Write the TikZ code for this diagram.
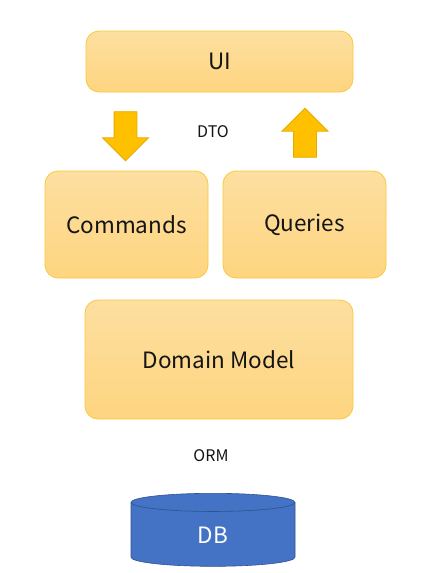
\documentclass[tikz,border=0pt]{standalone}
\usepackage{fontspec}
\setmainfont{Noto Sans CJK SC}
\usetikzlibrary{shapes.geometric,shapes.arrows,positioning}
\definecolor{Ink}{RGB}{20,20,20}
\definecolor{Gold}{RGB}{255,192,0}
\definecolor{GoldEdge}{RGB}{230,170,0}
\definecolor{BoxEdge}{RGB}{250,200,60}
\definecolor{BoxTop}{RGB}{253,223,160}
\definecolor{BoxBottom}{RGB}{254,213,128}
\definecolor{DbBlue}{RGB}{68,114,196}
\definecolor{DbEdge}{RGB}{47,82,143}
\tikzset{
  layer/.style={draw=BoxEdge,line width=.8pt,rounded corners=13pt,top color=BoxTop,bottom color=BoxBottom,text=Ink,font=\fontsize{22.5}{26}\selectfont,inner sep=0pt},
  flowarrow/.style={single arrow,draw=GoldEdge,fill=Gold,line width=.8pt,inner sep=11pt,minimum height=49pt,single arrow head extend=11.5pt},
  store/.style={cylinder,shape border rotate=90,aspect=.6,draw=DbEdge,line width=.6pt,fill=DbBlue,text=white,font=\fontsize{22.5}{26}\selectfont,minimum width=164pt,minimum height=73pt,inner sep=0pt,text height=17pt,text depth=0pt},
  tag/.style={text=Ink,font=\fontsize{16}{19}\selectfont}
}
\begin{document}
\begin{tikzpicture}[x=1pt,y=-1pt]
  \useasboundingbox (0,0) rectangle (442,573);
  \node[layer,minimum width=267pt,minimum height=61pt] (ui) at (219.5,61.5) {UI};
  \node[layer,minimum width=163pt,minimum height=107pt] (cmd) at (126.5,224.5) {Commands};
  \node[layer,minimum width=163pt,minimum height=107pt] (qry) at (304.5,224.5) {Queries};
  \node[layer,minimum width=268pt,minimum height=119pt] (dom) at (219,359.5) {Domain Model};
  \node[flowarrow,shape border rotate=270] (down) at (125.5,130.5) {};
  \node[flowarrow,shape border rotate=90] (up) at (305,138.5) {};
  \node[tag] (dto) at (213,132) {DTO};
  \node[tag] (orm) at (211,456) {ORM};
  \node[store] (db) at (213,534.5) {DB};
\end{tikzpicture}
\end{document}
